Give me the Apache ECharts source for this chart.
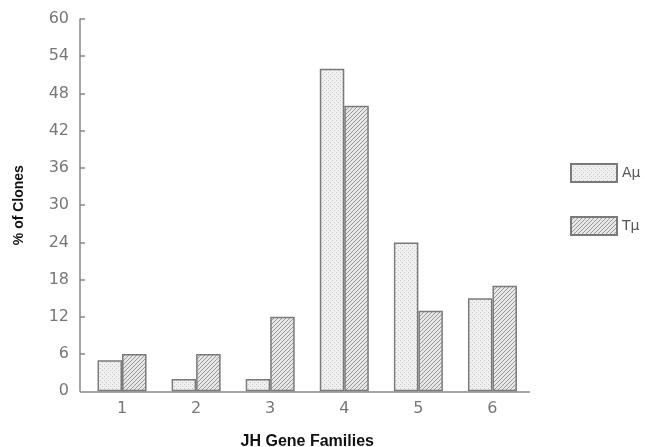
<!DOCTYPE html>
<html>
<head>
<meta charset="utf-8">
<script src="https://cdn.jsdelivr.net/npm/echarts@6/dist/echarts.min.js"></script>
<style>html,body{margin:0;padding:0;background:#fff}#c{width:645px;height:447px}</style>
</head>
<body>
<div id="c"></div>
<script>
var categories = ['1', '2', '3', '4', '5', '6'];
var seriesNames = ['A\u03bc', 'T\u03bc'];
var aValues = [5, 2, 2, 52, 24, 15];
var tValues = [6, 6, 12, 46, 13, 17];
var yTicks = [0, 6, 12, 18, 24, 30, 36, 42, 48, 54, 60];

function dotPattern() {
  var c = document.createElement('canvas');
  c.width = 4; c.height = 4;
  var g = c.getContext('2d');
  g.fillStyle = '#f0f0f0';
  g.fillRect(0, 0, 4, 4);
  g.fillStyle = '#c4c4c4';
  g.fillRect(0, 0, 1, 1);
  g.fillRect(2, 2, 1, 1);
  return c;
}
function hatchPattern() {
  var s = 4;
  var c = document.createElement('canvas');
  c.width = s; c.height = s;
  var g = c.getContext('2d');
  g.fillStyle = '#e6e6e6';
  g.fillRect(0, 0, s, s);
  g.strokeStyle = '#9a9a9a';
  g.lineWidth = 1;
  g.beginPath();
  g.moveTo(-1, s + 1); g.lineTo(s + 1, -1);
  g.moveTo(-1, 1); g.lineTo(1, -1);
  g.moveTo(s - 1, s + 1); g.lineTo(s + 1, s - 1);
  g.stroke();
  return c;
}

var chart = echarts.init(document.getElementById('c'));
var labelFont = { color: '#777', fontSize: 16, fontFamily: 'DejaVu Sans' };
chart.setOption({
  animation: false,
  backgroundColor: '#fff',
  grid: { left: 85, right: 115.5, top: 19, bottom: 55.7, containLabel: false, outerBoundsMode: 'none' },
  legend: {
    orient: 'vertical', left: 565, top: 158, icon: 'rect',
    itemWidth: 46, itemHeight: 18, itemGap: 33, itemTextGap: 15,
    textStyle: { color: '#555', fontSize: 14, fontFamily: 'DejaVu Sans' },
    data: seriesNames
  },
  xAxis: {
    type: 'category', data: categories,
    name: 'JH Gene Families', nameLocation: 'middle', nameGap: 42,
    nameTextStyle: { color: '#111', fontSize: 16, fontWeight: 'bold', fontFamily: 'Liberation Sans' },
    axisLine: { lineStyle: { color: '#888', width: 1.5 } },
    axisTick: { show: false },
    axisLabel: Object.assign({ margin: 10 }, labelFont)
  },
  yAxis: {
    type: 'value', min: 0, max: 60, interval: 6, offset: 5,
    name: '% of Clones', nameLocation: 'middle', nameGap: 54,
    nameTextStyle: { color: '#111', fontSize: 14, fontWeight: 'bold', fontFamily: 'Liberation Sans' },
    axisLine: { show: true, lineStyle: { color: '#888', width: 1.5 } },
    axisTick: { show: true, inside: true, length: 5, lineStyle: { color: '#888', width: 1.5 } },
    splitLine: { show: false },
    axisLabel: Object.assign({ margin: 11, formatter: function (v) { return yTicks.indexOf(v) >= 0 ? String(v) : ''; } }, labelFont)
  },
  series: [
    {
      name: seriesNames[0], type: 'bar', data: aValues, barWidth: 24.5, barGap: '0%',
      itemStyle: { color: { image: dotPattern(), repeat: 'repeat' }, borderColor: '#7a7a7a', borderWidth: 1.5 }
    },
    {
      name: seriesNames[1], type: 'bar', data: tValues, barWidth: 24.5, barGap: '0%',
      itemStyle: { color: { image: hatchPattern(), repeat: 'repeat' }, borderColor: '#7a7a7a', borderWidth: 1.5 }
    }
  ]
});
</script>
</body>
</html>
